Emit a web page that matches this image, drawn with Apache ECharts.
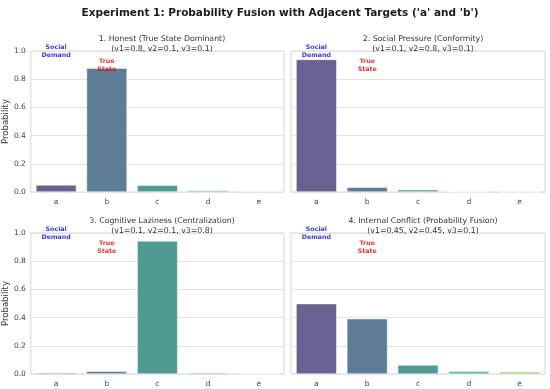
<!DOCTYPE html>
<html><head><meta charset="utf-8">
<script src="https://cdn.jsdelivr.net/npm/echarts@6/dist/echarts.min.js"></script>
<style>html,body{margin:0;padding:0;background:#fff}#c{width:550px;height:389px}</style>
</head><body><div id="c"></div>
<script>
const categories = ['a','b','c','d','e'];
const mainTitle = "Experiment 1: Probability Fusion with Adjacent Targets ('a' and 'b')";
const panelTitles = [
  "1. Honest (True State Dominant)\n(v1=0.8, v2=0.1, v3=0.1)",
  "2. Social Pressure (Conformity)\n(v1=0.1, v2=0.8, v3=0.1)",
  "3. Cognitive Laziness (Centralization)\n(v1=0.1, v2=0.1, v3=0.8)",
  "4. Internal Conflict (Probability Fusion)\n(v1=0.45, v2=0.45, v3=0.1)"
];
const honest = [0.050, 0.878, 0.048, 0.011, 0.005];
const social = [0.940, 0.033, 0.016, 0.003, 0.001];
const lazy   = [0.009, 0.019, 0.943, 0.009, 0.002];
const fusion = [0.499, 0.392, 0.064, 0.019, 0.016];
const panels = [honest, social, lazy, fusion];
const yTicks = [0, 0.2, 0.4, 0.6, 0.8, 1.0];
const socialLabel = {cat: 'a', y: 1.0, text: 'Social\nDemand'};
const trueLabel = {cat: 'b', y: 0.9, text: 'True\nState'};
const barColors = ['#6a6190', '#5d7d97', '#4f9a93', '#62b096', '#9fcd7a'];

const chart = echarts.init(document.getElementById('c'));
const gridPos = [
  {left: 30, top: 51}, {left: 291, top: 51},
  {left: 30, top: 233}, {left: 291, top: 233}
];
const grids = [], xAxes = [], yAxes = [], series = [], titles = [];
titles.push({text: mainTitle, left: 275, top: 3, textAlign: 'center',
  textStyle: {fontFamily: 'DejaVu Sans', fontSize: 10.5, fontWeight: 'bold', color: '#1a1a1a'}});
panels.forEach((vals, i) => {
  const g = gridPos[i];
  grids.push({left: g.left, top: g.top, width: 254, height: 141, show: true,
    borderColor: '#d6d6d6', borderWidth: 1, backgroundColor: 'transparent'});
  titles.push({text: panelTitles[i], left: g.left + 127, top: g.top - 22, textAlign: 'center',
    textStyle: {fontFamily: 'DejaVu Sans', fontSize: 7.8, fontWeight: 'normal', color: '#333', lineHeight: 10}});
  xAxes.push({type: 'category', gridIndex: i, data: categories,
    axisLine: {show: false}, axisTick: {show: false},
    axisLabel: {fontFamily: 'DejaVu Sans', fontSize: 7.5, color: '#444', margin: 6}});
  yAxes.push({type: 'value', gridIndex: i, min: 0, max: 1.0, interval: 0.2,
    name: i % 2 === 0 ? 'Probability' : '', nameLocation: 'middle', nameGap: 20,
    nameTextStyle: {fontFamily: 'DejaVu Sans', fontSize: 8.5, color: '#333'},
    axisLine: {show: false}, axisTick: {show: false},
    axisLabel: {show: i % 2 === 0, fontFamily: 'DejaVu Sans', fontSize: 7.5, color: '#444', margin: 5,
      formatter: v => v.toFixed(1)},
    splitLine: {lineStyle: {color: '#e3e3e3', width: 1}}});
  series.push({type: 'bar', xAxisIndex: i, yAxisIndex: i, barCategoryGap: '20%',
    data: vals.map((v, k) => ({value: v, itemStyle: {color: barColors[k]}})),
    itemStyle: {borderColor: '#fff', borderWidth: 0.5}});
  series.push({type: 'scatter', xAxisIndex: i, yAxisIndex: i, symbolSize: 0, silent: true,
    data: [
      {value: [socialLabel.cat, socialLabel.y], label: {show: true, position: 'inside', formatter: socialLabel.text,
        color: '#0000e6', fontFamily: 'DejaVu Sans', fontWeight: 'bold', fontSize: 6.3, lineHeight: 8}},
      {value: [trueLabel.cat, trueLabel.y], label: {show: true, position: 'inside', formatter: trueLabel.text,
        color: '#e60000', fontFamily: 'DejaVu Sans', fontWeight: 'bold', fontSize: 6.3, lineHeight: 8}}
    ]});
});
chart.setOption({animation: false, title: titles, grid: grids, xAxis: xAxes, yAxis: yAxes, series: series});
</script></body></html>
